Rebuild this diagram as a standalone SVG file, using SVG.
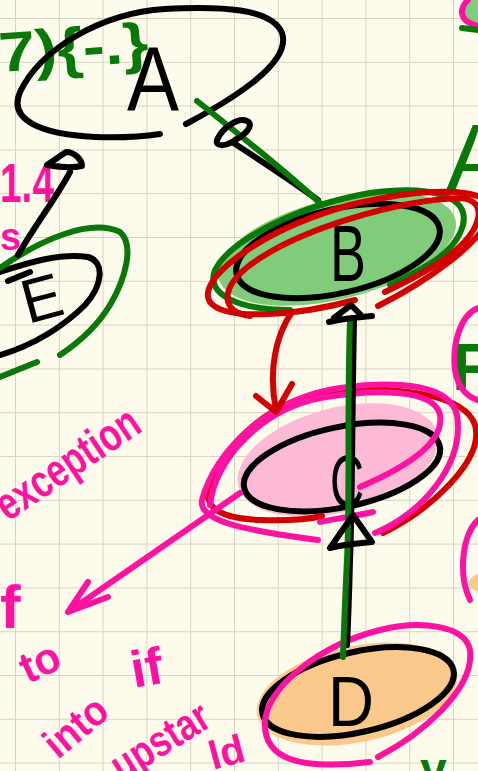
<svg xmlns="http://www.w3.org/2000/svg" width="478" height="771" viewBox="0 0 478 771">
<defs>
<pattern id="grid" x="15" y="18" width="43.8" height="43.8" patternUnits="userSpaceOnUse">
<path d="M0,0 H43.8 M0,0 V43.8" stroke="#d9d4c3" stroke-width="2" fill="none"/>
</pattern>
<style>
.s{fill:none;stroke-width:6;stroke-linecap:round;stroke-linejoin:round}
.k{stroke:#000}
.g{stroke:#087808}
.r{stroke:#d20000}
.p{stroke:#ff12a2}
.t{font-family:"Liberation Sans",sans-serif}
.h{font-weight:bold}
.tk{fill:#000}
.tg{fill:#087808}
.tp{fill:#ff12a2}
</style>
</defs>
<rect width="478" height="771" fill="#fdfbec"/>
<rect width="478" height="771" fill="url(#grid)"/>

<g id="notes">
<text class="t h tg" x="0" y="72" font-size="56" textLength="150" lengthAdjust="spacingAndGlyphs" transform="rotate(-4,0,72)">7){-.}</text>
<text class="t h tp" x="0" y="202" font-size="56" textLength="54" lengthAdjust="spacingAndGlyphs">1.4</text>
<text class="t h tp" x="0" y="250" font-size="38">s</text>
<text class="t h tp" x="8" y="522" font-size="46" textLength="164" lengthAdjust="spacingAndGlyphs" transform="rotate(-34,8,522)">exception</text>
<text class="t h tp" x="0" y="628" font-size="62">f</text>
<text class="t h tp" x="28" y="684" font-size="44" textLength="40" lengthAdjust="spacingAndGlyphs" transform="rotate(-25,28,684)">to</text>
<text class="t h tp" x="134" y="688" font-size="52" textLength="32" lengthAdjust="spacingAndGlyphs" transform="rotate(-10,134,688)">if</text>
<text class="t h tp" x="58" y="760" font-size="42" textLength="70" lengthAdjust="spacingAndGlyphs" transform="rotate(-40,58,760)">into</text>
<text class="t h tp" x="122" y="782" font-size="44" textLength="108" lengthAdjust="spacingAndGlyphs" transform="rotate(-32,122,782)">upstar</text>
<text class="t h tp" x="213" y="770" font-size="40" transform="rotate(-15,213,770)">ld</text>
<text class="t tg" x="446" y="190" font-size="95">A</text>
<text class="t h tg" x="452" y="390" font-size="66">F</text>
<text class="t h tg" x="420" y="786" font-size="48">y</text>
<ellipse cx="485" cy="10" rx="22" ry="16" fill="#80cc7a"/>
<path class="s p" d="M468,0 C458,10 460,22 478,26"/>
<path class="s g" d="M462,28 L478,30"/>
<path class="s p" d="M478,308 C460,315 452,345 455,370 C458,390 470,398 478,400"/>
<ellipse cx="485" cy="583" rx="16" ry="10" fill="#fbc98c"/>
<path class="s p" d="M478,520 C462,535 458,575 470,600"/>
</g>

<g id="node-A">
<path class="s k" d="M186,124 C235,98 292,62 282,33 C272,8 220,6 165,9 C100,13 40,50 20,92 C8,120 40,134 95,137 C120,138 140,137 160,134"/>
<text class="t tk" x="153" y="110" font-size="90" text-anchor="middle" textLength="52" lengthAdjust="spacingAndGlyphs">A</text>
</g>

<g id="node-E">
<path class="s k" d="M0,272 C30,262 60,253 88,257 C105,262 103,285 85,305 C65,325 35,345 0,355"/>
<path class="s k" d="M8,281 L30,272"/>
<text class="t tk" x="28" y="324" font-size="62" textLength="40" lengthAdjust="spacingAndGlyphs" transform="rotate(-15,28,324)">E</text>
<path class="s g" d="M0,268 C40,240 90,218 120,232 C135,245 125,280 110,305 C95,330 75,345 60,355"/>
<path class="s g" d="M0,377 L37,362"/>
</g>

<g id="node-B">
<ellipse cx="337" cy="249" rx="122" ry="50" transform="rotate(-14,337,249)" fill="#80cc7a"/>
<ellipse class="s k" cx="338" cy="251" rx="104" ry="42" transform="rotate(-13,338,251)"/>
<text class="t tk" x="330" y="281" font-size="80" textLength="36" lengthAdjust="spacingAndGlyphs">B</text>
<path class="s g" d="M290,310 C240,310 205,295 215,270 C230,240 300,205 370,193 C430,185 470,195 463,225 C455,255 420,270 390,285"/>
<path class="s r" d="M355,300 C300,315 225,322 210,302 C195,280 260,230 350,205 C420,188 490,185 490,210 C490,240 420,285 378,306"/>
<path class="s r" d="M250,316 C222,312 218,290 250,265 C300,228 400,200 460,198 C490,200 482,230 450,255 C430,270 400,285 385,292"/>
</g>

<g id="node-C">
<ellipse cx="338" cy="460" rx="103" ry="52" transform="rotate(-15,338,460)" fill="#fcbad6"/>
<ellipse class="s k" cx="342" cy="467" rx="100" ry="40" transform="rotate(-12,342,467)"/>
<text class="t tk" x="330" y="507" font-size="75" textLength="34" lengthAdjust="spacingAndGlyphs">C</text>
<path class="s r" d="M383,533 C430,510 485,460 475,425 C465,395 400,385 330,392 C270,400 230,440 212,480 C200,505 215,518 260,520 C290,521 310,519 322,516"/>
<path class="s p" d="M375,533 C420,515 465,465 457,415 C450,385 400,380 340,388 C270,398 215,450 202,500 C198,520 240,530 318,540"/>
<path class="s p" d="M360,487 C400,470 445,445 440,415 C435,390 380,388 320,398 C260,410 215,460 210,505"/>
<path class="s p" d="M320,522 C340,518 360,515 373,512"/>
</g>

<g id="node-D">
<ellipse cx="357" cy="694" rx="102" ry="48" transform="rotate(-12,357,694)" fill="#fbc98c"/>
<ellipse class="s k" cx="358" cy="692" rx="98" ry="40" transform="rotate(-13,358,692)"/>
<text class="t tk" x="328" y="726" font-size="70" textLength="46" lengthAdjust="spacingAndGlyphs">D</text>
<path class="s p" d="M378,757 C420,735 475,690 470,650 C465,625 420,620 380,630 C320,645 270,685 265,720 C262,760 300,770 370,762"/>
</g>

<g id="connectors">
<path class="s k" d="M18,255 C35,225 55,200 70,172"/>
<path class="s k" d="M47,165 L66,152 C75,152 82,160 82,166 C72,168 58,167 47,165 Z"/>
<path class="s k" d="M232,142 C260,160 290,180 318,200"/>
<path class="s g" d="M197,101 C240,135 290,175 322,205"/>
<path class="s k" d="M235,140 C245,135 255,125 247,121 C238,117 222,128 217,140 C215,147 225,146 232,142"/>
<path class="s k" d="M354,320 C352,420 352,520 350,560 C349,600 348,625 347,645"/>
<path class="s g" d="M350,322 C347,400 350,500 347,560 C345,600 344,630 343,657"/>
<path class="s k" d="M334,318 L351,305 L360,314 M329,322 C345,318 360,317 372,316"/>
<path class="s k" d="M353,515 L330,548 C345,544 360,543 372,542 L355,518"/>
<path class="s r" d="M292,312 C276,335 268,370 276,410 M256,396 L276,412 L292,384"/>
<path class="s p" d="M240,493 L68,612 M68,612 L88,582 M68,612 L108,597"/>
</g>
</svg>
